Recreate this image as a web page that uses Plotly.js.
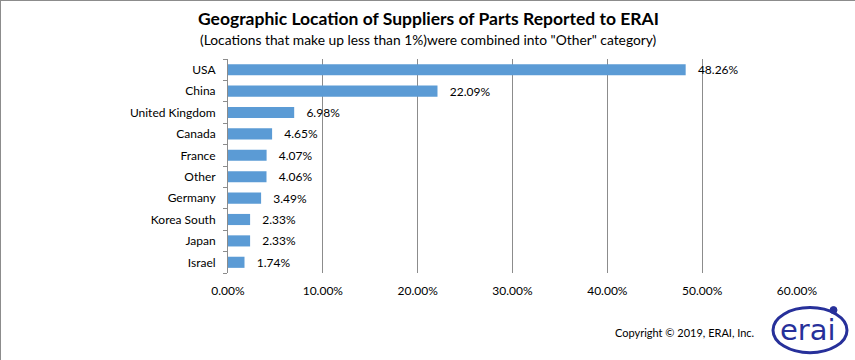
<!DOCTYPE html>
<html>
<head>
<meta charset="utf-8">
<script src="https://cdn.plot.ly/plotly-3.0.1.min.js"></script>
<style>
  html, body { margin: 0; padding: 0; background: #fff; }
  #chart { width: 853px; height: 358px; border: 1px solid #8c8c8c; }
</style>
</head>
<body>
<div id="chart"></div>
<script>
const countries = ["USA", "China", "United Kingdom", "Canada", "France", "Other", "Germany", "Korea South", "Japan", "Israel"];
const shares = [48.26, 22.09, 6.98, 4.65, 4.07, 4.06, 3.49, 2.33, 2.33, 1.74];
const xTickValues = [0, 10, 20, 30, 40, 50, 60];
const xTickLabels = ["0.00%", "10.00%", "20.00%", "30.00%", "40.00%", "50.00%", "60.00%"];

const FONT = "Lato, 'Open Sans', sans-serif";

const trace = {
  type: "bar",
  orientation: "h",
  y: countries,
  x: shares,
  marker: { color: "#5b9bd5" },
  width: 0.52,
  texttemplate: "   %{x:.2f}%",
  textposition: "outside",
  constraintext: "none",
  cliponaxis: false,
  textfont: { family: FONT, size: 12, color: "#000" },
  hoverinfo: "skip"
};

const layout = {
  width: 855,
  height: 360,
  margin: { l: 227, r: 59, t: 58, b: 88 },
  paper_bgcolor: "#fff",
  plot_bgcolor: "#fff",
  showlegend: false,
  bargap: 0.48,
  font: { family: FONT, size: 12, color: "#000" },
  xaxis: {
    range: [0, 60],
    tickmode: "array",
    tickvals: xTickValues,
    ticktext: xTickLabels,
    showgrid: true,
    gridcolor: "#8c8c8c",
    gridwidth: 1,
    zeroline: false,
    showline: false,
    ticks: "",
    ticklabelstandoff: 9,
    tickfont: { family: FONT, size: 12, color: "#000" },
    fixedrange: true
  },
  yaxis: {
    type: "category",
    categoryorder: "array",
    categoryarray: countries.slice().reverse(),
    autorange: false,
    range: [-0.5, countries.length - 0.5],
    showline: true,
    linecolor: "#8c8c8c",
    linewidth: 1,
    ticks: "outside",
    tickson: "boundaries",
    ticklen: 4,
    tickcolor: "#8c8c8c",
    showgrid: false,
    ticklabelstandoff: 9,
    tickfont: { family: FONT, size: 12, color: "#000" },
    fixedrange: true
  },
  annotations: [
    {
      xref: "paper", yref: "paper",
      x: (427 - 227) / 569, y: (271.5 - 18) / 213.5,
      text: "<b>Geographic Location of Suppliers of Parts Reported to ERAI</b>",
      showarrow: false, xanchor: "center", yanchor: "middle",
      font: { family: FONT, size: 17.5, color: "#000" }
    },
    {
      xref: "paper", yref: "paper",
      x: (427 - 227) / 569, y: (271.5 - 39) / 213.5,
      text: "(Locations that make up less than 1%)were combined into \"Other\" category)",
      showarrow: false, xanchor: "center", yanchor: "middle",
      font: { family: FONT, size: 13.8, color: "#000" }
    },
    {
      xref: "paper", yref: "paper",
      x: (683 - 227) / 569, y: (271.5 - 331) / 213.5,
      text: "Copyright © 2019, ERAI, Inc.",
      showarrow: false, xanchor: "center", yanchor: "middle",
      font: { family: FONT, size: 11, color: "#000" }
    },
    {
      xref: "paper", yref: "paper",
      x: (807 - 227) / 569, y: (271.5 - 328) / 213.5,
      text: "erai",
      showarrow: false, xanchor: "center", yanchor: "middle",
      font: { family: "'DejaVu Sans', sans-serif", size: 29, color: "#27309a" }
    }
  ],
  shapes: [
    {
      type: "circle", xref: "paper", yref: "paper",
      x0: (772 - 227) / 569, x1: (846 - 227) / 569,
      y0: (271.5 - 351) / 213.5, y1: (271.5 - 306) / 213.5,
      line: { color: "#27309a", width: 3 },
      fillcolor: "rgba(0,0,0,0)"
    },
    {
      type: "circle", xref: "paper", yref: "paper",
      x0: (829 - 227) / 569, x1: (836 - 227) / 569,
      y0: (271.5 - 312) / 213.5, y1: (271.5 - 305) / 213.5,
      line: { color: "#27309a", width: 1 },
      fillcolor: "#27309a"
    }
  ]
};

Plotly.newPlot("chart", [trace], layout, { displayModeBar: false, staticPlot: true });
</script>
</body>
</html>
